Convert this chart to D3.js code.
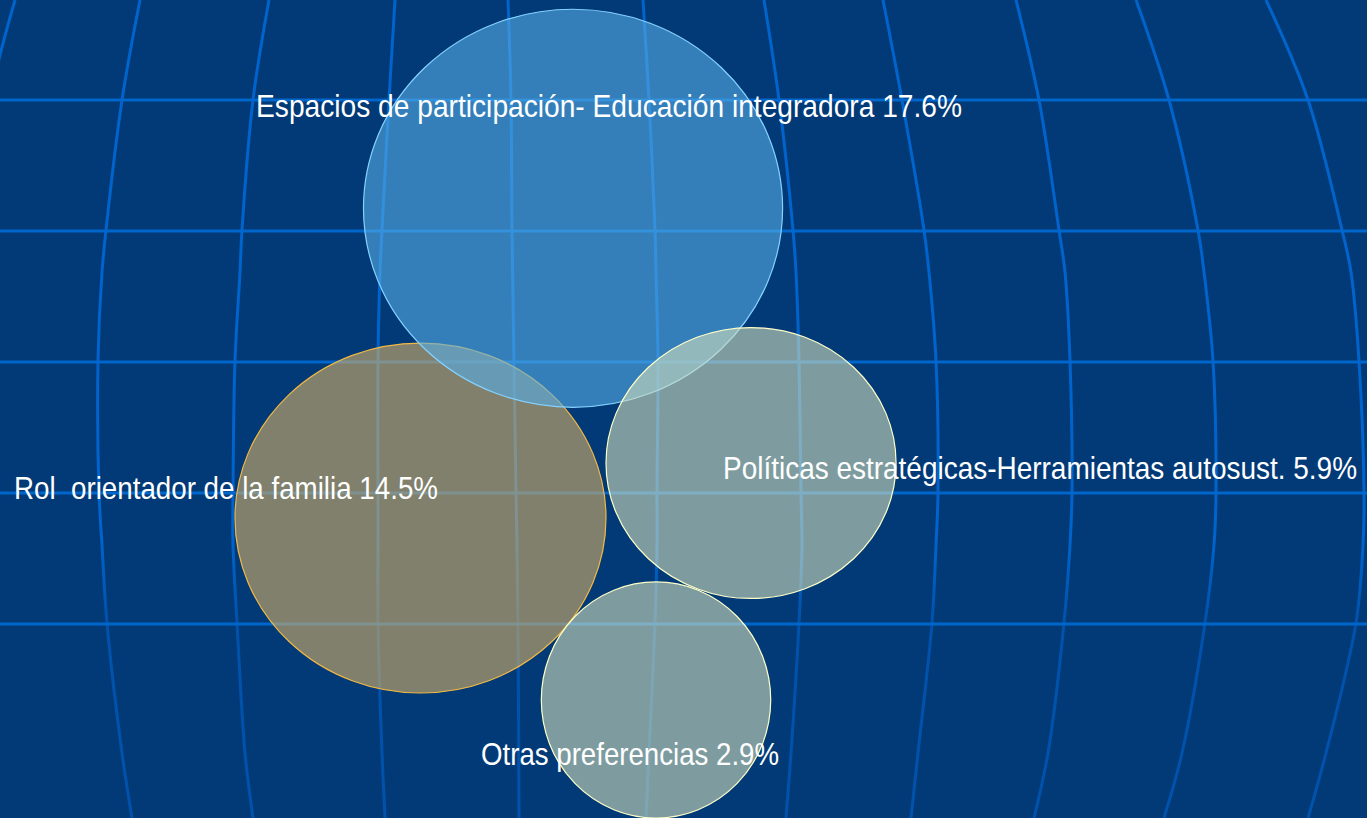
<!DOCTYPE html>
<html>
<head>
<meta charset="utf-8">
<script src="https://cdn.jsdelivr.net/npm/d3@7"></script>
<style>
  html, body { margin: 0; padding: 0; background: #013A76; overflow: hidden; }
  svg { display: block; }
  text { white-space: pre; }
</style>
</head>
<body>
<svg id="chart" width="1367" height="818"></svg>
<script>
// ---------- data ----------
const categories = [
  "Espacios de participación- Educación integradora",
  "Rol  orientador de la familia",
  "Políticas estratégicas-Herramientas autosust.",
  "Otras preferencias"
];
const percents = [17.6, 14.5, 5.9, 2.9];
// bubble centre (x, y) and half-extents, in chart units (0-100 on each axis)
const bubbleX  = [41.92, 30.76, 54.94, 47.99];
const bubbleY  = [74.54, 36.67, 43.40, 14.43];
const bubbleRX = [15.33, 13.57, 10.61, 8.39];
const bubbleRY = [24.33, 21.39, 16.56, 14.43];

// ---------- styles / layout ----------
const W = 1367, H = 818;
const fills   = ["#57ADE6", "#D5AF66", "#D2DDBD", "#D2DDBD"];
const strokes = ["#86D2FF", "#F2B845", "#FFFFC8", "#FFFFC8"];
const drawOrder = [1, 0, 2, 3];
const labelOffsets = [[-317, -91], [-406.5, -19], [-28, 16], [-175, 65]];
const labelWidths = [706, 424, 634, 298];
const gridRowCount = 5;

// decorative globe meridians (background artwork)
const meridians = [
  [[15,0],[0,55],[-12,110]],
  [[140,0],[122,100],[106,230],[102,272],[98,361],[99,492],[102,545],[107,623],[122,753],[132,818]],
  [[269,0],[253,100],[242,230],[240,272],[235,361],[233,492],[233,545],[237,623],[245,753],[253,818]],
  [[395,0],[389,100],[382,230],[380,272],[378,361],[378,492],[378,545],[378,623],[382,753],[385,818]],
  [[508,0],[511,100],[512,230],[514,361],[516,492],[517,545],[518,623],[519,818]],
  [[643,0],[649,100],[655,230],[656,272],[658,361],[657,492],[657,545],[655,623],[649,753],[646,818]],
  [[764,0],[779,100],[793,230],[796,272],[799,361],[801,492],[802,545],[799,623],[791,753],[786,818]],
  [[883,0],[902,100],[924,230],[929,272],[936,361],[938,492],[936,545],[932,623],[918,753],[911,818]],
  [[1016,0],[1039,100],[1059,230],[1065,272],[1070,361],[1072,492],[1070,545],[1064,623],[1048,753],[1034,818]],
  [[1136,0],[1169,100],[1198,230],[1204,272],[1213,361],[1216,492],[1214,545],[1205,623],[1182,753],[1164,818]],
  [[1266,0],[1308,100],[1342,230],[1351,272],[1359,361],[1364,492],[1363,545],[1356,623],[1326,753],[1308,818]]
];

// ---------- scales ----------
const xScale = d3.scaleLinear().domain([0, 100]).range([0, W]);
const yScale = d3.scaleLinear().domain([0, 100]).range([H, 0]);
const rowScale = d3.scaleLinear().domain([0, gridRowCount - 1]).range([100, 624]);

const svg = d3.select("#chart");
svg.append("rect").attr("width", W).attr("height", H).attr("fill", "#013A76");

const defs = svg.append("defs");
const grad = defs.append("linearGradient")
  .attr("id", "merGrad").attr("gradientUnits", "userSpaceOnUse")
  .attr("x1", 0).attr("y1", 0).attr("x2", 0).attr("y2", H);
grad.append("stop").attr("offset", 0).attr("stop-color", "#0064CC");
grad.append("stop").attr("offset", 0.66).attr("stop-color", "#0064CC");
grad.append("stop").attr("offset", 0.76).attr("stop-color", "#0052AC");
grad.append("stop").attr("offset", 1).attr("stop-color", "#0052AC");

// meridians
const line = d3.line().curve(d3.curveCatmullRom.alpha(0.5));
svg.append("g").selectAll("path").data(meridians).join("path")
  .attr("d", line)
  .attr("fill", "none")
  .attr("stroke", "url(#merGrad)")
  .attr("stroke-width", 3);

// horizontal grid lines
svg.append("g").selectAll("line").data(d3.range(gridRowCount)).join("line")
  .attr("x1", 0).attr("x2", W)
  .attr("y1", d => rowScale(d)).attr("y2", d => rowScale(d))
  .attr("stroke", "#0066CC")
  .attr("stroke-width", 3);

// bubbles
const gB = svg.append("g");
drawOrder.forEach(i => {
  gB.append("ellipse")
    .attr("cx", xScale(bubbleX[i]))
    .attr("cy", yScale(bubbleY[i]))
    .attr("rx", xScale(bubbleRX[i]) - xScale(0))
    .attr("ry", yScale(0) - yScale(bubbleRY[i]))
    .attr("fill", fills[i])
    .attr("fill-opacity", 0.6)
    .attr("stroke", strokes[i])
    .attr("stroke-width", 1.2);
});

// labels
svg.append("g").selectAll("text").data(categories).join("text")
  .attr("x", (d, i) => xScale(bubbleX[i]) + labelOffsets[i][0])
  .attr("y", (d, i) => yScale(bubbleY[i]) + labelOffsets[i][1])
  .attr("fill", "#FFFFFF")
  .attr("font-family", "'Liberation Sans Narrow', 'Arial Narrow', 'Liberation Sans', sans-serif")
  .attr("font-size", 30.5)
  .attr("textLength", (d, i) => labelWidths[i])
  .attr("lengthAdjust", "spacingAndGlyphs")
  .text((d, i) => d + " " + percents[i].toFixed(1) + "%");
</script>
</body>
</html>
